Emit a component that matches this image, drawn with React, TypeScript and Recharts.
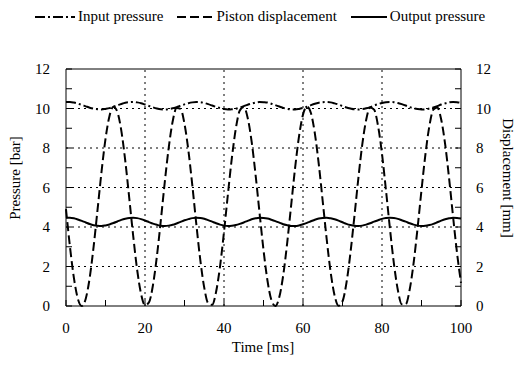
import { LineChart, Line, XAxis, YAxis, ReferenceLine, Legend } from "recharts";

// time in ms
const TIME_MS = [
  0, 1, 2, 3, 4, 5, 6, 7, 8, 9, 10, 11, 12, 13, 14, 15, 16, 17, 18, 19,
  20, 21, 22, 23, 24, 25, 26, 27, 28, 29, 30, 31, 32, 33, 34, 35, 36, 37, 38, 39,
  40, 41, 42, 43, 44, 45, 46, 47, 48, 49, 50, 51, 52, 53, 54, 55, 56, 57, 58, 59,
  60, 61, 62, 63, 64, 65, 66, 67, 68, 69, 70, 71, 72, 73, 74, 75, 76, 77, 78, 79,
  80, 81, 82, 83, 84, 85, 86, 87, 88, 89, 90, 91, 92, 93, 94, 95, 96, 97, 98, 99, 100,
];

// input pressure [bar]
const INPUT_PRESSURE = [
  10.33, 10.33, 10.3, 10.25, 10.18, 10.11, 10.04, 9.99, 9.96, 9.95,
  9.98, 10.02, 10.09, 10.16, 10.23, 10.29, 10.32, 10.33, 10.31, 10.27,
  10.2, 10.13, 10.06, 10.0, 9.96, 9.95, 9.97, 10.01, 10.07, 10.14,
  10.21, 10.27, 10.31, 10.33, 10.32, 10.28, 10.22, 10.15, 10.08, 10.02,
  9.97, 9.95, 9.96, 9.99, 10.05, 10.12, 10.19, 10.25, 10.3, 10.33,
  10.32, 10.3, 10.24, 10.17, 10.1, 10.03, 9.98, 9.95, 9.95, 9.98,
  10.03, 10.09, 10.17, 10.24, 10.29, 10.32, 10.33, 10.31, 10.26, 10.2,
  10.12, 10.05, 10.0, 9.96, 9.95, 9.97, 10.01, 10.07, 10.15, 10.22,
  10.28, 10.32, 10.33, 10.32, 10.28, 10.22, 10.15, 10.07, 10.01, 9.97,
  9.95, 9.96, 10.0, 10.05, 10.12, 10.2, 10.26, 10.31, 10.33, 10.32, 10.29,
];

// piston displacement [mm]
const PISTON_DISPLACEMENT = [
  4.9, 3.01, 1.42, 0.37, 0.0, 0.37, 1.43, 3.02, 4.9, 6.81,
  8.46, 9.61, 10.09, 9.83, 8.88, 7.36, 5.49, 3.57, 1.85, 0.62,
  0.04, 0.18, 1.04, 2.5, 4.32, 6.26, 8.01, 9.34, 10.02, 9.98,
  9.22, 7.85, 6.07, 4.13, 2.33, 0.93, 0.14, 0.06, 0.72, 2.01,
  3.75, 5.68, 7.51, 8.99, 9.9, 10.08, 9.52, 8.32, 6.63, 4.71,
  2.84, 1.29, 0.3, 0.0, 0.45, 1.57, 3.2, 5.1, 6.99, 8.6,
  9.69, 10.1, 9.77, 8.74, 7.17, 5.29, 3.38, 1.71, 0.53, 0.01,
  0.24, 1.17, 2.67, 4.51, 6.44, 8.17, 9.43, 10.05, 9.94, 9.12,
  7.7, 5.87, 3.94, 2.17, 0.82, 0.09, 0.09, 0.82, 2.17, 3.94,
  5.87, 7.69, 9.12, 9.94, 10.05, 9.43, 8.17, 6.44, 4.51, 2.67, 1.17,
];

// output pressure [bar]
const OUTPUT_PRESSURE = [
  4.47, 4.47, 4.44, 4.38, 4.31, 4.23, 4.15, 4.09, 4.06, 4.05,
  4.08, 4.13, 4.2, 4.28, 4.36, 4.42, 4.46, 4.47, 4.45, 4.4,
  4.33, 4.25, 4.17, 4.11, 4.06, 4.05, 4.07, 4.11, 4.18, 4.26,
  4.34, 4.4, 4.45, 4.47, 4.46, 4.42, 4.35, 4.27, 4.19, 4.12,
  4.07, 4.05, 4.06, 4.1, 4.16, 4.23, 4.31, 4.39, 4.44, 4.47,
  4.46, 4.43, 4.37, 4.3, 4.22, 4.14, 4.09, 4.05, 4.05, 4.08,
  4.14, 4.21, 4.29, 4.37, 4.43, 4.46, 4.47, 4.44, 4.39, 4.32,
  4.24, 4.16, 4.1, 4.06, 4.05, 4.07, 4.12, 4.19, 4.27, 4.34,
  4.41, 4.45, 4.47, 4.45, 4.41, 4.34, 4.27, 4.19, 4.12, 4.07,
  4.05, 4.06, 4.1, 4.16, 4.24, 4.32, 4.39, 4.44, 4.47, 4.46, 4.43,
];

const X_TICKS = [0, 10, 20, 30, 40, 50, 60, 70, 80, 90, 100];
const Y_TICKS = [0, 1, 2, 3, 4, 5, 6, 7, 8, 9, 10, 11, 12];
const X_GRID = [20, 40, 60, 80];
const Y_GRID = [2, 4, 6, 8, 10];

const FONT = "Liberation Serif, Times New Roman, DejaVu Serif, serif";
const DASH_INPUT = "10 3 2 3";
const DASH_PISTON = "9 4";

const rows = TIME_MS.map((t, i) => ({
  t,
  input: INPUT_PRESSURE[i],
  piston: PISTON_DISPLACEMENT[i],
  output: OUTPUT_PRESSURE[i],
}));

const textStyle = { fontFamily: FONT, fontSize: 15, fill: "#000" };

const LeftTick = ({ x, y, payload }: any) => (
  <g>
    <line x1={x} x2={x + 6} y1={y} y2={y} stroke="#000" />
    {payload.value % 2 === 0 && (
      <text x={x - 16} y={y} dy={5} textAnchor="end" style={textStyle}>
        {payload.value}
      </text>
    )}
  </g>
);

const RightTick = ({ x, y, payload }: any) => (
  <g>
    <line x1={x - 6} x2={x} y1={y} y2={y} stroke="#000" />
    {payload.value % 2 === 0 && (
      <text x={x + 15} y={y} dy={5} textAnchor="start" style={textStyle}>
        {payload.value}
      </text>
    )}
  </g>
);

const BottomTick = ({ x, y, payload }: any) => (
  <g>
    <line x1={x} x2={x} y1={y} y2={y - 6} stroke="#000" />
    {payload.value % 20 === 0 && (
      <text x={x} y={y + 27} textAnchor="middle" style={textStyle}>
        {payload.value}
      </text>
    )}
  </g>
);

const LEGEND_ITEMS = [
  { label: "Input pressure", dash: DASH_INPUT, sample: 40 },
  { label: "Piston displacement", dash: DASH_PISTON, sample: 36 },
  { label: "Output pressure", dash: undefined, sample: 36 },
];

const ChartLegend = () => (
  <div style={{ display: "flex", alignItems: "center", fontFamily: FONT, fontSize: 15, color: "#000", paddingLeft: 35 }}>
    {LEGEND_ITEMS.map((it) => (
      <div key={it.label} style={{ display: "flex", alignItems: "center", marginRight: 14 }}>
        <svg width={it.sample} height={8} style={{ marginRight: 3 }}>
          <line x1={0} x2={it.sample} y1={4} y2={4} stroke="#000" strokeWidth={2} strokeDasharray={it.dash} />
        </svg>
        <span>{it.label}</span>
      </div>
    ))}
  </div>
);

export default function App() {
  return (
    <div style={{ position: "absolute", left: 0, top: 0, width: 523, height: 365, background: "#fff", fontFamily: FONT }}>
      <LineChart width={523} height={365} data={rows} margin={{ top: 52, right: 16, bottom: 19, left: 20 }}>
        <XAxis
          dataKey="t"
          type="number"
          domain={[0, 100]}
          ticks={X_TICKS}
          interval={0}
          height={40}
          tickSize={0}
          tickMargin={0}
          tickLine={false}
          axisLine={{ stroke: "#000" }}
          tick={<BottomTick />}
        />
        <YAxis
          yAxisId="left"
          domain={[0, 12]}
          ticks={Y_TICKS}
          interval={0}
          width={46}
          tickSize={0}
          tickMargin={0}
          tickLine={false}
          axisLine={{ stroke: "#000" }}
          tick={<LeftTick />}
        />
        <YAxis
          yAxisId="right"
          orientation="right"
          domain={[0, 12]}
          ticks={Y_TICKS}
          interval={0}
          width={46}
          tickSize={0}
          tickMargin={0}
          tickLine={false}
          axisLine={{ stroke: "#000" }}
          tick={<RightTick />}
        />
        {Y_GRID.map((v) => (
          <ReferenceLine key={`y${v}`} yAxisId="left" y={v} stroke="#000" strokeDasharray="2 4" />
        ))}
        {X_GRID.map((v) => (
          <ReferenceLine key={`x${v}`} yAxisId="left" x={v} stroke="#000" strokeDasharray="2 4" />
        ))}
        <ReferenceLine yAxisId="left" y={12} stroke="#000" />
        <Legend verticalAlign="top" wrapperStyle={{ top: 8, left: 0, width: 523 }} content={<ChartLegend />} />
        <Line
          yAxisId="left"
          dataKey="input"
          name="Input pressure"
          type="monotone"
          stroke="#000"
          strokeWidth={2}
          strokeDasharray={DASH_INPUT}
          dot={false}
          isAnimationActive={false}
        />
        <Line
          yAxisId="right"
          dataKey="piston"
          name="Piston displacement"
          type="monotone"
          stroke="#000"
          strokeWidth={2}
          strokeDasharray={DASH_PISTON}
          dot={false}
          isAnimationActive={false}
        />
        <Line
          yAxisId="left"
          dataKey="output"
          name="Output pressure"
          type="monotone"
          stroke="#000"
          strokeWidth={2}
          dot={false}
          isAnimationActive={false}
        />
      </LineChart>
      <svg width={523} height={365} style={{ position: "absolute", left: 0, top: 0, pointerEvents: "none" }}>
        <text x={263} y={352} textAnchor="middle" style={textStyle}>
          Time [ms]
        </text>
        <text x={0} y={0} transform="translate(20 178) rotate(-90)" textAnchor="middle" style={textStyle}>
          Pressure [bar]
        </text>
        <text x={0} y={0} transform="translate(503 178) rotate(90)" textAnchor="middle" style={textStyle}>
          Displacement [mm]
        </text>
      </svg>
    </div>
  );
}
